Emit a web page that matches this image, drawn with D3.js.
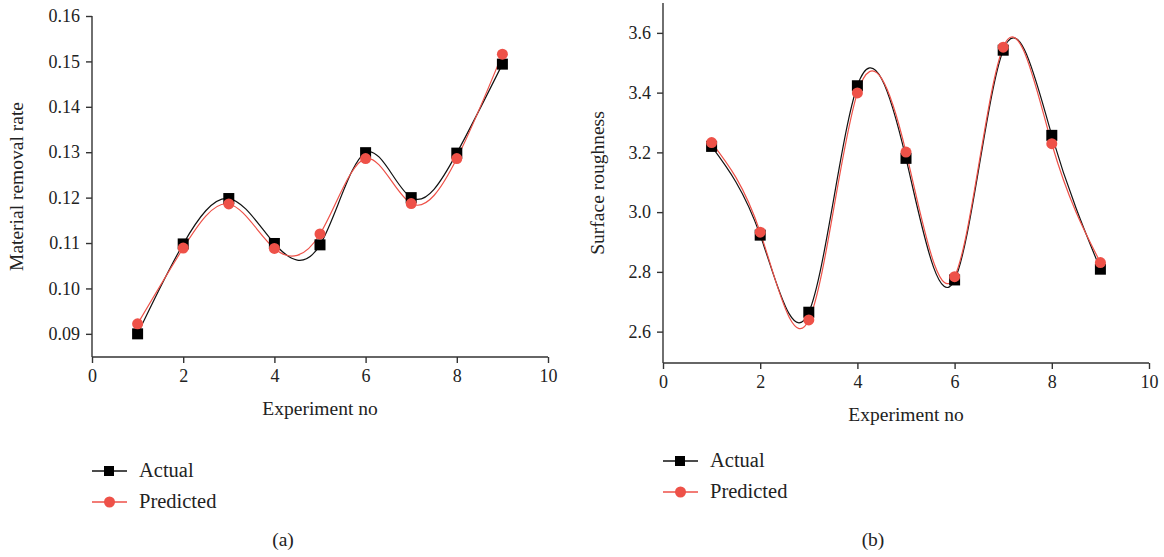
<!DOCTYPE html>
<html>
<head>
<meta charset="utf-8">
<script src="https://cdn.jsdelivr.net/npm/d3@7"></script>
<style>
  body { margin: 0; background: #fff; }
  svg { font-family: "Liberation Serif", "DejaVu Serif", serif; }
  .axis path, .axis line { stroke: #333; stroke-width: 1.4; }
  .axis text { font-family: "Liberation Serif", "DejaVu Serif", serif; font-size: 18px; fill: #222; }
  .title { font-size: 19.5px; fill: #222; }
  .legend { font-size: 20.5px; fill: #222; }
</style>
</head>
<body>
<script>
const experiments = [1, 2, 3, 4, 5, 6, 7, 8, 9];

// (a) material removal rate
const mrrActual = [0.090, 0.1098, 0.1198, 0.1099, 0.1096, 0.1299, 0.1200, 0.1298, 0.1494];
const mrrPredicted = [0.0922, 0.1089, 0.1186, 0.1088, 0.1120, 0.1286, 0.1187, 0.1286, 0.1516];
const mrrTicks = [0.09, 0.10, 0.11, 0.12, 0.13, 0.14, 0.15, 0.16];

// (b) surface roughness
const srActual = [3.22, 2.923, 2.665, 3.423, 3.180, 2.773, 3.542, 3.257, 2.809];
const srPredicted = [3.233, 2.933, 2.639, 3.399, 3.201, 2.784, 3.552, 3.229, 2.831];
const srTicks = [2.6, 2.8, 3.0, 3.2, 3.4, 3.6];

const xTicks = [0, 2, 4, 6, 8, 10];
const seriesNames = ["Actual", "Predicted"];
const red = "#ee5148";

const width = 1164;
const height = 557;

const svg = d3.select("body")
  .append("svg")
  .attr("width", width)
  .attr("height", height);

function drawPanel(cfg) {
  const x = d3.scaleLinear().domain([0, 10]).range([cfg.left, cfg.right]);
  const y = d3.scaleLinear().domain(cfg.yDomain).range([cfg.bottom, cfg.top]);
  const g = svg.append("g");

  const xAxis = g.append("g")
    .attr("class", "axis")
    .attr("transform", `translate(0,${cfg.bottom})`)
    .call(d3.axisBottom(x).tickValues(xTicks).tickFormat(d3.format("d")).tickSize(6).tickSizeOuter(0).tickPadding(6));
  xAxis.select(".domain").attr("d", `M${cfg.left},0H${cfg.right}`);

  const yAxis = g.append("g")
    .attr("class", "axis")
    .attr("transform", `translate(${cfg.left},0)`)
    .call(d3.axisLeft(y).tickValues(cfg.yTicks).tickFormat(cfg.fmt).tickSize(6).tickSizeOuter(0).tickPadding(6));
  yAxis.select(".domain").attr("d", `M0,${cfg.top}V${cfg.bottom}`);

  g.selectAll(".axis").attr("font-family", null).attr("font-size", null);

  const line = d3.line()
    .x((d, i) => x(experiments[i]))
    .y((d) => y(d))
    .curve(d3.curveNatural);

  g.append("path").datum(cfg.actual)
    .attr("d", line).attr("fill", "none").attr("stroke", "#111").attr("stroke-width", 1.2);
  g.append("path").datum(cfg.predicted)
    .attr("d", line).attr("fill", "none").attr("stroke", red).attr("stroke-width", 1.2);

  g.selectAll(".sq").data(cfg.actual).enter().append("rect")
    .attr("x", (d, i) => x(experiments[i]) - 5.5)
    .attr("y", (d) => y(d) - 5.5)
    .attr("width", 11).attr("height", 11)
    .attr("fill", "#000");
  g.selectAll(".dot").data(cfg.predicted).enter().append("circle")
    .attr("cx", (d, i) => x(experiments[i]))
    .attr("cy", (d) => y(d))
    .attr("r", 5.5)
    .attr("fill", red);

  g.append("text").attr("class", "title")
    .attr("x", (cfg.left + cfg.right) / 2).attr("y", cfg.xTitleY)
    .attr("text-anchor", "middle").text("Experiment no");
  g.append("text").attr("class", "title")
    .attr("transform", `translate(${cfg.yTitleX},${(cfg.top + cfg.bottom) / 2}) rotate(-90)`)
    .attr("text-anchor", "middle").text(cfg.yTitle);

  // legend
  seriesNames.forEach((name, i) => {
    const ly = cfg.legendY + i * 31;
    const color = i === 0 ? "#111" : red;
    g.append("line")
      .attr("x1", cfg.legendX).attr("x2", cfg.legendX + 35)
      .attr("y1", ly).attr("y2", ly)
      .attr("stroke", color).attr("stroke-width", 1.4);
    if (i === 0) {
      g.append("rect").attr("x", cfg.legendX + 12).attr("y", ly - 5)
        .attr("width", 10).attr("height", 10).attr("fill", "#000");
    } else {
      g.append("circle").attr("cx", cfg.legendX + 17.5).attr("cy", ly)
        .attr("r", 5.5).attr("fill", red);
    }
    g.append("text").attr("class", "legend")
      .attr("x", cfg.legendX + 47).attr("y", ly + 6).text(name);
  });

  g.append("text").attr("class", "title")
    .attr("x", cfg.labelX).attr("y", 546)
    .attr("text-anchor", "middle").text(cfg.label);
}

drawPanel({
  left: 92, right: 548, top: 16, bottom: 357,
  yDomain: [0.0849, 0.16], yTicks: mrrTicks, fmt: d3.format(".2f"),
  actual: mrrActual, predicted: mrrPredicted,
  yTitle: "Material removal rate", yTitleX: 23, xTitleY: 415,
  legendX: 92, legendY: 471, label: "(a)", labelX: 283
});

drawPanel({
  left: 663, right: 1149, top: 3, bottom: 363,
  yDomain: [2.495, 3.7], yTicks: srTicks, fmt: d3.format(".1f"),
  actual: srActual, predicted: srPredicted,
  yTitle: "Surface roughness", yTitleX: 604, xTitleY: 421,
  legendX: 663, legendY: 461, label: "(b)", labelX: 873
});
</script>
</body>
</html>
